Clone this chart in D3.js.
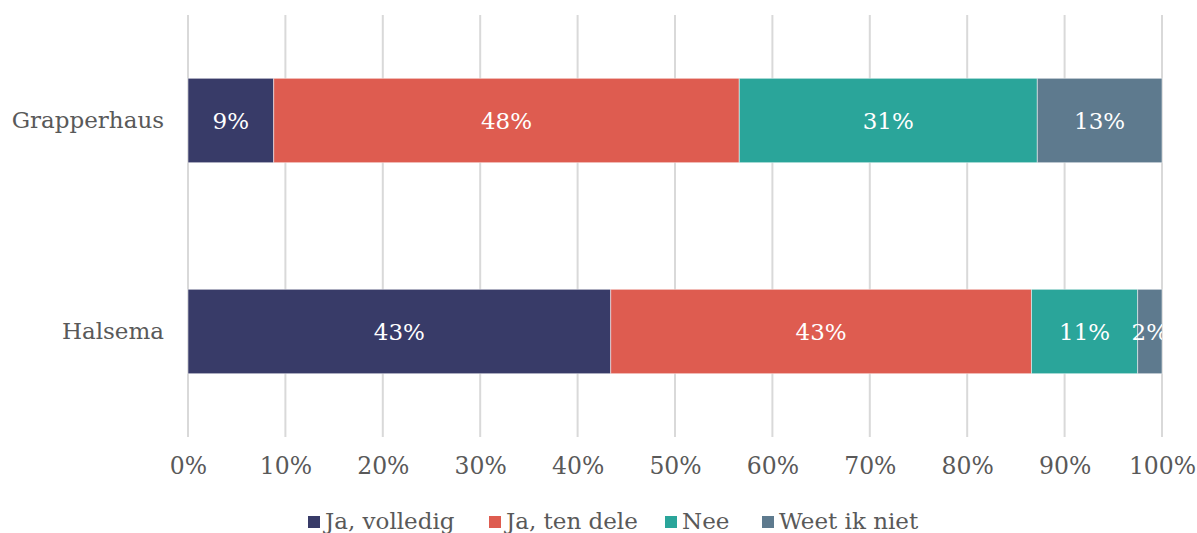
<!DOCTYPE html>
<html>
<head>
<meta charset="utf-8">
<script src="https://cdn.jsdelivr.net/npm/d3@7"></script>
<style>
  body { margin: 0; background: #fff; }
  text { font-family: "DejaVu Serif", serif; }
</style>
</head>
<body>
<div id="chart"></div>
<script>
// data
var categories = ["Grapperhaus", "Halsema"];
var seriesNames = ["Ja, volledig", "Ja, ten dele", "Nee", "Weet ik niet"];
var seriesColors = ["#383b68", "#de5c50", "#2aa59a", "#5e7a8e"];
var grapperhausValues = [8.8, 47.8, 30.6, 12.8];
var halsemaValues = [43.4, 43.2, 10.9, 2.5];
var valueLabels = [["9%", "48%", "31%", "13%"], ["43%", "43%", "11%", "2%"]];
var tickValues = [0, 10, 20, 30, 40, 50, 60, 70, 80, 90, 100];

var width = 1197, height = 533;
var margin = { top: 15, right: 35, bottom: 96, left: 188 };
var plotW = width - margin.left - margin.right;
var plotH = height - margin.top - margin.bottom;

var rows = categories.map(function (c, i) {
  var vals = i === 0 ? grapperhausValues : halsemaValues;
  var x0 = 0;
  return { name: c, segs: vals.map(function (v, j) {
    var s = { start: x0, end: x0 + v, color: seriesColors[j], label: valueLabels[i][j] };
    x0 += v;
    return s;
  }) };
});

var xScale = d3.scaleLinear().domain([0, 100]).range([0, plotW]);
var yScale = d3.scaleBand().domain(categories).range([0, plotH]).paddingInner(0.6).paddingOuter(0.3);

var svg = d3.select("#chart").append("svg")
    .attr("width", width)
    .attr("height", height);

svg.append("defs").append("clipPath").attr("id", "plotclip")
    .append("rect").attr("x", 0).attr("y", 0).attr("width", plotW).attr("height", plotH);

var g = svg.append("g")
    .attr("transform", "translate(" + margin.left + "," + margin.top + ")");

// gridlines
g.selectAll(".grid")
    .data(tickValues)
    .enter().append("line")
    .attr("x1", d => xScale(d)).attr("x2", d => xScale(d))
    .attr("y1", 0).attr("y2", plotH)
    .attr("stroke", "#d9d9d9")
    .attr("stroke-width", 2);

// x axis labels
var xAxis = g.append("g")
    .attr("transform", "translate(0," + plotH + ")")
    .call(d3.axisBottom(xScale).tickValues(tickValues).tickSize(0).tickPadding(20).tickFormat(d => d + "%"));
xAxis.select(".domain").remove();
xAxis.selectAll("text")
    .attr("font-family", "DejaVu Serif")
    .attr("font-size", 23.5)
    .attr("fill", "#595959");

// y axis labels
var yAxis = g.append("g")
    .call(d3.axisLeft(yScale).tickSize(0).tickPadding(24));
yAxis.select(".domain").remove();
yAxis.selectAll("text")
    .attr("font-family", "DejaVu Serif")
    .attr("font-size", 23)
    .attr("fill", "#595959");

// bars
var rowG = g.selectAll(".row")
    .data(rows)
    .enter().append("g")
    .attr("transform", d => "translate(0," + yScale(d.name) + ")");

rowG.selectAll("rect")
    .data(d => d.segs)
    .enter().append("rect")
    .attr("x", d => xScale(d.start))
    .attr("width", d => xScale(d.end) - xScale(d.start))
    .attr("y", 0)
    .attr("height", yScale.bandwidth())
    .attr("fill", d => d.color)
    .attr("stroke", "#ffffff")
    .attr("stroke-opacity", 0.5)
    .attr("stroke-width", 1);

var labelG = g.append("g").attr("clip-path", "url(#plotclip)");
rows.forEach(function (r) {
  labelG.selectAll(null)
    .data(r.segs)
    .enter().append("text")
    .attr("x", d => xScale((d.start + d.end) / 2))
    .attr("y", yScale(r.name) + yScale.bandwidth() / 2)
    .attr("dy", "0.35em")
    .attr("text-anchor", "middle")
    .attr("font-size", 23)
    .attr("fill", "#ffffff")
    .text(d => d.label);
});

// legend
var legend = svg.append("g").attr("transform", "translate(0,522)");
var legendX = [308, 489, 665, 762];
var items = legend.selectAll(".item")
    .data(seriesNames)
    .enter().append("g")
    .attr("transform", (d, i) => "translate(" + legendX[i] + ",0)");
items.append("rect")
    .attr("x", 0).attr("y", -6)
    .attr("width", 12).attr("height", 12)
    .attr("fill", (d, i) => seriesColors[i]);
items.append("text")
    .attr("x", 17).attr("y", 7)
    .attr("font-size", 23)
    .attr("fill", "#595959")
    .text(d => d);
</script>
</body>
</html>
